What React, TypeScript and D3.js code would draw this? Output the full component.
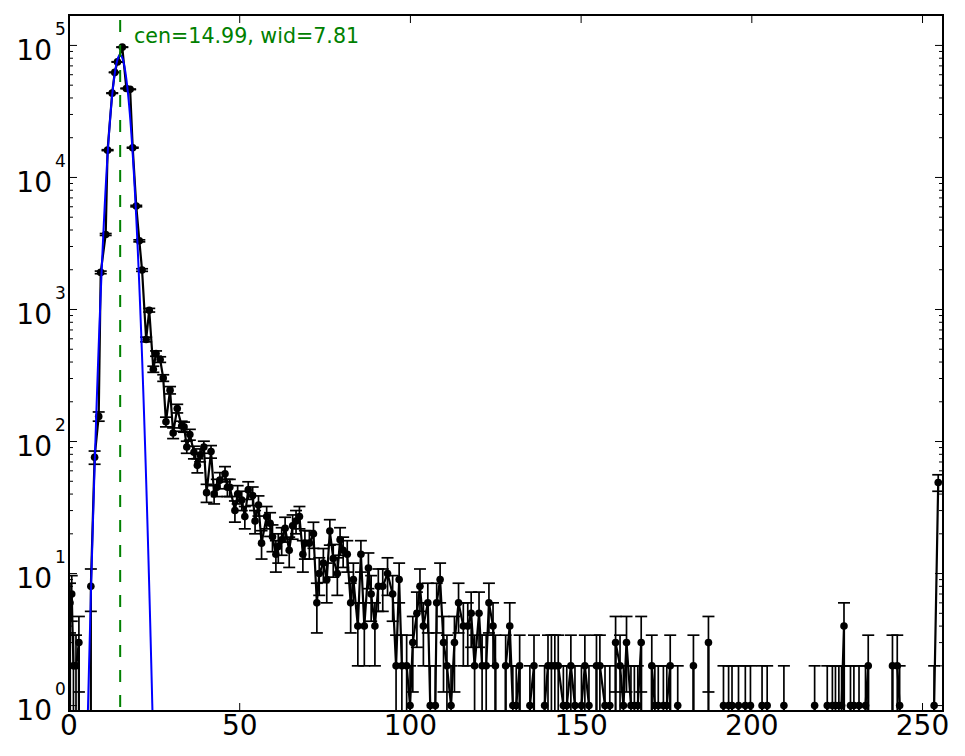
import * as d3 from 'd3';

// counts per channel (zero-count channels are not listed)
const CHANNELS = [
  0.3, 0.8, 1.3, 2.05, 2.9,
  6.4, 7.5, 8.7, 9.29, 10.75, 11.3, 12.65, 13.4, 14.2, 15.6, 16.8, 17.9, 18.66, 19.7, 20.6,
  21.4, 22.6, 23.5, 24.7, 25.5, 26.7, 27.6, 28.4, 29.6, 30.5, 31.7, 33.0, 33.7, 34.5, 35.4,
  36.6, 37.6, 38.4, 39.5, 40.3, 41.6, 42.5, 43.3, 44.2, 45.7, 46.4, 47.1, 48.6, 49.4, 50.6,
  51.5, 52.5, 53.8, 54.5, 55.5, 56.4, 57.9, 58.9, 59.6, 60.6, 61.3, 62.3, 63.3, 64.5, 65.5,
  66.5, 67.5, 68.5, 69.1, 70.4, 71.6, 72.6, 73.3, 74.5, 75.5, 76.4, 77.4, 78.6, 79.4, 80.3,
  81.5, 82.5, 83.3, 84.6, 85.5, 86.5, 87.7, 88.5, 89.6, 90.6, 91.9, 93.3, 94.8, 95.8, 96.7,
  97.5, 98.9, 99.9, 100.7, 101.9, 102.8, 103.8, 105.1, 105.8, 107.3, 107.7, 108.7, 109.7, 110.7, 111.9,
  112.9, 114.1, 115.5, 116.8, 117.8, 118.8, 120.1, 121.0, 122.2, 123.0, 124.2, 124.9,
  127.9, 129.1, 130.0, 131.0, 132.0, 135.0, 136.2, 139.3, 140.3, 141.3, 142.3, 143.3, 144.8, 145.8,
  147.0, 148.2, 150.1, 151.1, 152.3, 154.5, 155.5, 157.0, 158.4, 160.1, 161.4, 162.4, 163.3, 164.6,
  165.6, 166.6, 167.6, 170.7, 171.6, 172.6, 174.1, 175.1, 176.1, 178.3, 182.9, 187.3,
  191.7, 193.2, 194.2, 196.1, 198.1, 199.6, 203.0, 204.5, 209.4, 218.4, 222.1, 223.6, 224.5,
  225.5, 226.3, 227.0, 228.9, 229.9, 231.4, 233.3, 234.1, 241.2, 242.6, 243.3, 253.4, 254.6,
];

const COUNTS = [
  6, 7, 2, 2, 3,
  8, 76, 155, 1910, 3700, 16100, 43500, 62500, 75000, 97000, 47200, 46500, 16800, 6070, 3310,
  1990, 593, 988, 353, 464, 418, 303, 141, 245, 116, 178, 131, 129, 91, 113,
  83, 66, 79, 91, 41, 84, 40, 45, 51, 57, 45, 45, 30, 40, 36,
  27, 43, 39, 25, 33, 17, 27, 24, 19, 14, 16, 18, 22, 15, 23,
  25, 27, 14, 17, 17, 20, 6, 10, 12, 9, 21, 13, 10, 18, 15,
  14, 6, 9, 4, 14, 4, 11, 7, 4, 8, 8, 10, 7, 2, 9,
  2, 2, 1, 3, 5, 8, 4, 6, 1, 1, 6, 9, 3, 2, 1,
  3, 6, 4, 4, 5, 2, 5, 2, 2, 6, 4, 2,
  2, 4, 1, 1, 2, 1, 2, 1, 2, 2, 2, 2, 1, 1,
  2, 1, 1, 2, 1, 2, 2, 1, 1, 3, 2, 1, 3, 1,
  1, 1, 3, 2, 1, 1, 1, 1, 2, 1, 2, 3,
  1, 1, 1, 1, 1, 1, 1, 1, 1, 1, 1, 1, 1,
  1, 1, 4, 1, 1, 1, 1, 2, 2, 2, 1, 1, 49,
];

const X_TICKS = [0, 50, 100, 150, 200, 250];
const Y_EXPONENTS = [0, 1, 2, 3, 4, 5];

// gaussian fit shown on the plot
const FIT_CEN = 14.99;
const FIT_WID = 7.81;
const FIT_AMP = 84500;

const W = 965;
const H = 756;
const PLOT = { left: 69, right: 943, top: 15, bottom: 711 };
const X_DOMAIN: [number, number] = [0, 256];
const Y_DOMAIN: [number, number] = [0.91, 1.7e5];
const GAP = 1.6; // wider spacing than this means empty channels in between
const FONT = 'DejaVu Sans, sans-serif';

export default function App() {
  const x = d3.scaleLinear().domain(X_DOMAIN).range([PLOT.left, PLOT.right]);
  const y = d3.scaleLog().domain(Y_DOMAIN).range([PLOT.bottom, PLOT.top]);

  const pts = CHANNELS.map((c, i) => ({ c, n: COUNTS[i] }));
  const floor = PLOT.bottom + 5;

  // data line: empty channels drop to the floor like a log-clipped zero
  let dataPath = '';
  pts.forEach((p, i) => {
    const px = x(p.c);
    const py = y(p.n);
    if (i === 0) {
      dataPath += `M${px},${floor}L${px},${py}`;
      return;
    }
    const prev = pts[i - 1];
    if (p.c - prev.c > GAP) {
      dataPath += `L${x(prev.c)},${floor}L${px},${floor}L${px},${py}`;
    } else {
      dataPath += `L${px},${py}`;
    }
  });

  const fitLine = d3
    .line<number>()
    .x((d) => x(d))
    .y((d) => y(Math.max(FIT_AMP * Math.exp(-((d - FIT_CEN) ** 2) / FIT_WID), 1e-3)));
  const fitXs = d3.range(FIT_CEN - 12, FIT_CEN + 12, 0.05);

  const minorY: number[] = [];
  for (let e = -1; e <= 5; e++) {
    for (let k = 2; k <= 9; k++) {
      const v = k * 10 ** e;
      if (v > Y_DOMAIN[0] && v < Y_DOMAIN[1]) minorY.push(v);
    }
  }

  const cap = 6;

  return (
    <svg
      width={W}
      height={H}
      viewBox={`0 0 ${W} ${H}`}
      style={{ position: 'absolute', left: 0, top: 0, background: '#fff' }}
    >
      <defs>
        <clipPath id="plot-clip">
          <rect x={PLOT.left} y={PLOT.top} width={PLOT.right - PLOT.left} height={PLOT.bottom - PLOT.top} />
        </clipPath>
      </defs>

      <g clipPath="url(#plot-clip)">
        {/* error bars */}
        {pts.map((p, i) => {
          const s = Math.sqrt(p.n);
          const lo = p.n - s;
          const yTop = y(p.n + s);
          const yLo = lo > Y_DOMAIN[0] ? y(lo) : floor;
          const px = x(p.c);
          return (
            <g key={i} stroke="#000" strokeWidth={1.7}>
              <line x1={px} x2={px} y1={yTop} y2={yLo} />
              <line x1={px - cap} x2={px + cap} y1={yTop} y2={yTop} />
              {lo > Y_DOMAIN[0] && <line x1={px - cap} x2={px + cap} y1={yLo} y2={yLo} />}
            </g>
          );
        })}
        <path d={dataPath} fill="none" stroke="#000" strokeWidth={2.2} strokeLinejoin="round" />
        {pts.map((p, i) => (
          <circle key={i} cx={x(p.c)} cy={y(p.n)} r={3.8} fill="#000" />
        ))}

        {/* gaussian fit */}
        <path d={fitLine(fitXs) ?? ''} fill="none" stroke="#0000ff" strokeWidth={2} />

        {/* centre marker */}
        <line
          x1={x(FIT_CEN)}
          x2={x(FIT_CEN)}
          y1={PLOT.bottom}
          y2={PLOT.top}
          stroke="#008000"
          strokeWidth={2}
          strokeDasharray="12,13"
          strokeDashoffset={21}
        />
      </g>

      <text x={134} y={43} fontFamily={FONT} fontSize={20.6} fill="#008000">
        {`cen=${FIT_CEN.toFixed(2)}, wid=${FIT_WID.toFixed(2)}`}
      </text>

      {/* ticks, inside on all four sides */}
      <g stroke="#000" strokeWidth={1}>
        {X_TICKS.map((t) => (
          <g key={t}>
            <line x1={x(t)} x2={x(t)} y1={PLOT.bottom} y2={PLOT.bottom - 8} />
            <line x1={x(t)} x2={x(t)} y1={PLOT.top} y2={PLOT.top + 8} />
          </g>
        ))}
        {Y_EXPONENTS.map((e) => (
          <g key={e}>
            <line x1={PLOT.left} x2={PLOT.left + 8} y1={y(10 ** e)} y2={y(10 ** e)} />
            <line x1={PLOT.right} x2={PLOT.right - 8} y1={y(10 ** e)} y2={y(10 ** e)} />
          </g>
        ))}
        {minorY.map((v) => (
          <g key={v}>
            <line x1={PLOT.left} x2={PLOT.left + 4} y1={y(v)} y2={y(v)} />
            <line x1={PLOT.right} x2={PLOT.right - 4} y1={y(v)} y2={y(v)} />
          </g>
        ))}
      </g>

      {X_TICKS.map((t) => (
        <text key={t} x={x(t)} y={735} textAnchor="middle" fontFamily={FONT} fontSize={28} fill="#000">
          {t}
        </text>
      ))}
      {Y_EXPONENTS.map((e) => (
        <g key={e} fontFamily={FONT} fill="#000">
          <text x={52} y={y(10 ** e) + 14.5} textAnchor="end" fontSize={28}>
            10
          </text>
          <text x={55} y={y(10 ** e) - 10.5} fontSize={17}>
            {e}
          </text>
        </g>
      ))}

      <rect
        x={PLOT.left}
        y={PLOT.top}
        width={PLOT.right - PLOT.left}
        height={PLOT.bottom - PLOT.top}
        fill="none"
        stroke="#000"
        strokeWidth={2}
      />
    </svg>
  );
}
